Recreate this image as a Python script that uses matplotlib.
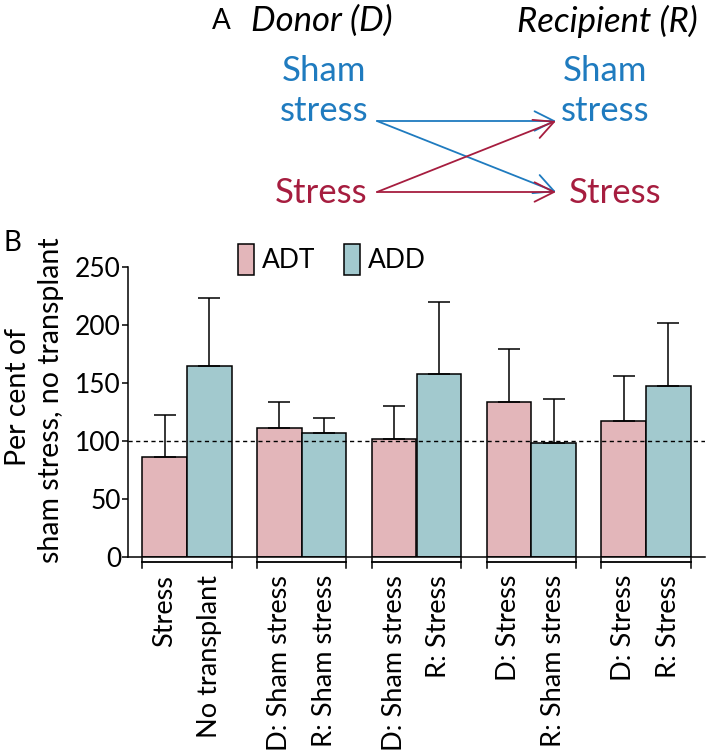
import numpy as np
import matplotlib
matplotlib.use('Agg')
import matplotlib.pyplot as plt
from matplotlib.patches import FancyArrowPatch, Patch

plt.rcParams['font.family'] = ['Lato', 'DejaVu Sans']

# data
adt_labels = ['Stress', 'D: Sham stress', 'D: Sham stress', 'D: Stress', 'D: Stress']
add_labels = ['No transplant', 'R: Sham stress', 'R: Stress', 'R: Sham stress', 'R: Stress']
adt_mean = [86, 111, 102, 134, 117]
adt_err = [36, 23, 28, 45, 39]
add_mean = [165, 107, 158, 98, 147]
add_err = [58, 13, 62, 38, 55]

pink = '#e3b6ba'
teal = '#a2c9ce'
blue = '#1f7bbf'
red = '#a61d3f'

W, H = 709, 755
fig = plt.figure(figsize=(W / 100, H / 100), dpi=100)

def fx(px):
    return px / W

def fy(py):
    return 1 - py / H

# Panel A - transplant scheme
fig.text(fx(212), fy(21), 'A', fontsize=20, va='center', ha='left')
fig.text(fx(251), fy(21), 'Donor (D)', fontsize=25, style='italic', va='center', ha='left')
fig.text(fx(698), fy(21), 'Recipient (R)', fontsize=25, style='italic', va='center', ha='right')

fig.text(fx(324), fy(91), 'Sham\nstress', fontsize=25, color=blue, va='center', ha='center',
         linespacing=1.3)
fig.text(fx(321), fy(193), 'Stress', fontsize=25, color=red, va='center', ha='center')
fig.text(fx(605), fy(91), 'Sham\nstress', fontsize=25, color=blue, va='center', ha='center',
         linespacing=1.3)
fig.text(fx(615), fy(193), 'Stress', fontsize=25, color=red, va='center', ha='center')

x0, x1 = 377, 556
ytop, ybot = 121, 192
arrows = [((x0, ytop), (x1, ytop), blue),
          ((x0, ytop), (x1, ybot), blue),
          ((x0, ybot), (x1, ybot), red),
          ((x0, ybot), (x1, ytop), red)]
for (a, b, c) in arrows:
    arr = FancyArrowPatch((fx(a[0]), fy(a[1])), (fx(b[0]), fy(b[1])),
                          transform=fig.transFigure, color=c, lw=1.3,
                          arrowstyle='->,head_length=0.7,head_width=0.35',
                          mutation_scale=20, shrinkA=0, shrinkB=0)
    fig.add_artist(arr)

# Panel B - bar chart
ax = fig.add_axes([fx(128), fy(557), (705 - 128) / W, (557 - 267) / H])
x = np.arange(len(adt_mean))
bw = 0.39
ax.bar(x - bw / 2, adt_mean, bw, color=pink, edgecolor='black', linewidth=1.1, label='ADT')
ax.bar(x + bw / 2, add_mean, bw, color=teal, edgecolor='black', linewidth=1.1, label='ADD')
ax.errorbar(x - bw / 2, adt_mean, yerr=[np.zeros(len(x)), adt_err], fmt='none',
            ecolor='black', elinewidth=1.1, capsize=8, capthick=1.1)
ax.errorbar(x + bw / 2, add_mean, yerr=[np.zeros(len(x)), add_err], fmt='none',
            ecolor='black', elinewidth=1.1, capsize=8, capthick=1.1)
ax.axhline(100, color='black', linestyle=(0, (3, 2.5)), linewidth=1)

ax.set_xlim(-0.513, 4.513)
ax.set_ylim(0, 250)
ax.set_yticks(np.arange(0, 251, 50))
ax.tick_params(axis='y', labelsize=19, length=4, width=1.1, pad=1)
for s in ['top', 'right']:
    ax.spines[s].set_visible(False)
for s in ['left', 'bottom']:
    ax.spines[s].set_linewidth(1.1)

# group brackets under the axis
for g in x:
    left, right = g - bw, g + bw
    ax.plot([left, right], [-4.6, -4.6], color='black', lw=1.3, clip_on=False)
    ax.plot([left, left], [-1, -9.5], color='black', lw=1.1, clip_on=False)
    ax.plot([right, right], [-1, -9.5], color='black', lw=1.1, clip_on=False)

ticks = np.ravel(np.column_stack([x - bw / 2, x + bw / 2]))
tick_labels = [lab for pair in zip(adt_labels, add_labels) for lab in pair]
ax.set_xticks(ticks)
ax.set_xticklabels(tick_labels, rotation=90, fontsize=19.5, ha='center', va='top')
ax.tick_params(axis='x', length=0, pad=13)

fig.text(fx(18), fy(397), 'Per cent of', fontsize=20.5, rotation=90, va='center', ha='center')
fig.text(fx(51), fy(400), 'sham stress, no transplant', fontsize=20.5, rotation=90,
         va='center', ha='center')
fig.text(fx(4), fy(243), 'B', fontsize=20, va='center', ha='left')

handles = [Patch(facecolor=pink, edgecolor='black', linewidth=1.1),
           Patch(facecolor=teal, edgecolor='black', linewidth=1.1)]
fig.legend(handles, ['ADT', 'ADD'], loc='upper left', bbox_to_anchor=(fx(238), fy(244)),
           ncol=2, frameon=False, fontsize=19, handlelength=0.6, handleheight=1.45,
           handletextpad=0.3, columnspacing=1.1, borderpad=0, borderaxespad=0)

fig.savefig('out.png', dpi=100)
